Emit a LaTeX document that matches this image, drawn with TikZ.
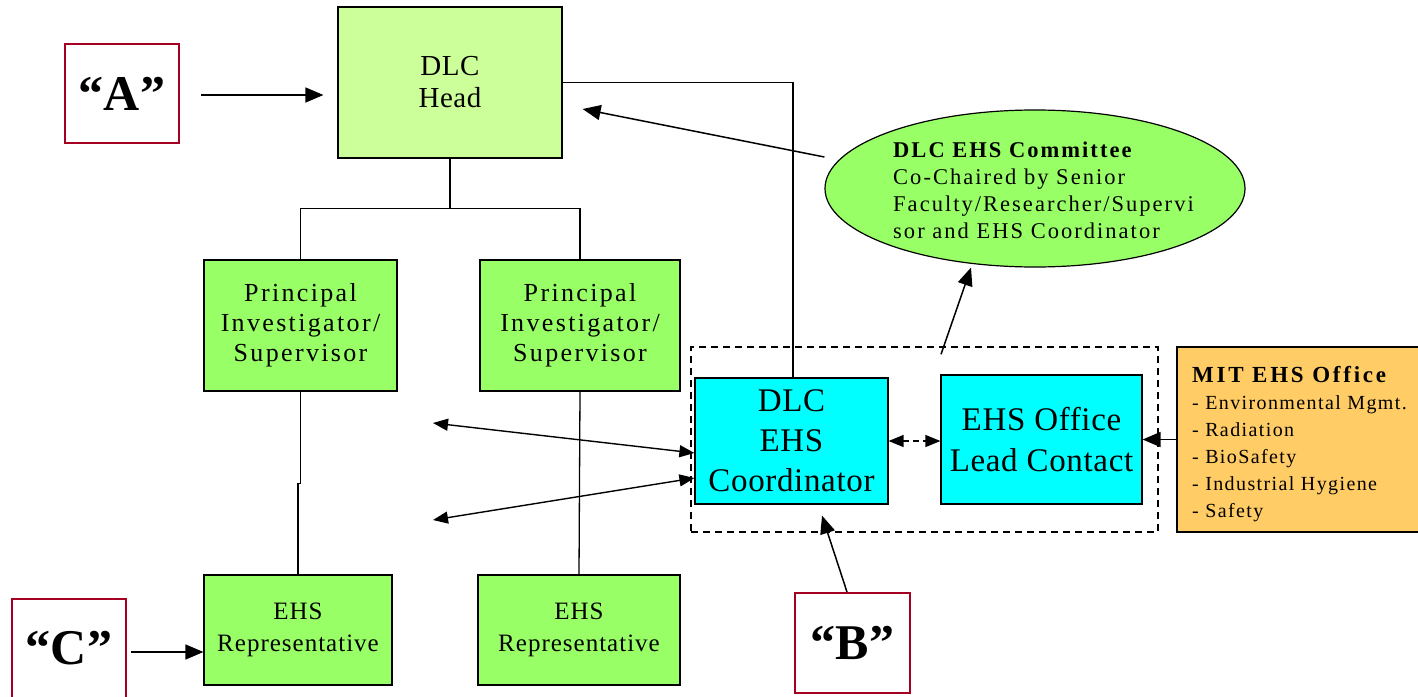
\documentclass[tikz,border=0pt]{standalone}
\usepackage{fontspec}
\setmainfont{Liberation Serif}
\newfontfamily\fA{Liberation Serif}[LetterSpace=2]
\newfontfamily\fB{Liberation Serif}[LetterSpace=9]
\newfontfamily\fR{Liberation Serif}[LetterSpace=4]
\newfontfamily\fC{Liberation Serif}[LetterSpace=7]
\newfontfamily\fD{Liberation Serif}[LetterSpace=12]
\usetikzlibrary{arrows.meta,shapes.geometric}
\definecolor{headg}{HTML}{CCFF99}
\definecolor{boxg}{HTML}{99FF66}
\definecolor{cyanb}{HTML}{00FFFF}
\definecolor{mito}{HTML}{FFCC66}
\definecolor{redb}{HTML}{A50021}
\begin{document}
\begin{tikzpicture}[x=1pt,y=-1pt,
 box/.style={draw=black, line width=1.2pt, inner sep=0pt, align=center},
 pitxt/.style={font=\fB\fontsize{26}{30}\selectfont},
 reptxt/.style={font=\fR\fontsize{25}{32}\selectfont},
 bigtxt/.style={font=\fA\fontsize{33}{40}\selectfont},
 lbl/.style={draw=redb, line width=2pt, inner sep=0pt, minimum width=114pt, minimum height=99pt, font=\fontsize{50}{50}\selectfont\bfseries},
 con/.style={line width=1.3pt},
 arr/.style={line width=1.5pt, -{Triangle[length=18pt,width=15pt]}},
 darr/.style={line width=1.4pt, {Triangle[length=15pt,width=12pt]}-{Triangle[length=15pt,width=12pt]}},
]
\useasboundingbox (0,0) rectangle (1418,696);

% main boxes
\node[box, fill=headg, minimum width=224pt, minimum height=151pt, font=\fA\fontsize{29}{32}\selectfont] (head) at (450,82.5) {DLC\\Head};
\node[box, fill=boxg, pitxt, minimum width=193pt, minimum height=131pt] (pi1) at (300.5,325.5) {Principal\\Investigator/\\Supervisor};
\node[box, fill=boxg, pitxt, minimum width=200pt, minimum height=131pt] (pi2) at (580,325.5) {Principal\\Investigator/\\Supervisor};
\node[box, fill=boxg, reptxt, minimum width=188pt, minimum height=110pt] (rep1) at (298,630) {EHS\\Representative};
\node[box, fill=boxg, reptxt, minimum width=202pt, minimum height=110pt] (rep2) at (579,630) {EHS\\Representative};

% labels
\node[lbl] (A) at (122,93.5) {“A”};
\node[lbl] (C) at (69,648.5) {“C”};
\node[lbl, minimum width=115pt, minimum height=100pt] (B) at (852.5,643) {“B”};

% dashed group
\node[draw, line width=1.4pt, dash pattern=on 7pt off 5pt, minimum width=467pt, minimum height=185pt, inner sep=0pt] (dash) at (924.5,439.5) {};
\node[box, fill=cyanb, bigtxt, minimum width=193pt, minimum height=126pt] (coord) at (791.5,441) {\raisebox{-4pt}{\parbox{190pt}{\centering DLC\\EHS\\Coordinator}}};
\node[box, fill=cyanb, font=\fA\fontsize{33}{41}\selectfont, minimum width=201pt, minimum height=129pt] (lead) at (1041.5,439.5) {EHS Office\\Lead Contact};

% MIT office
\node[box, fill=mito, minimum width=248pt, minimum height=185pt] (mit) at (1301,439.5) {};
\node[anchor=north west, inner sep=0pt, align=left, font=\fC\fontsize{20}{27}\selectfont] (mittext) at (1192,366) {{\fD\fontsize{23}{27}\selectfont\bfseries MIT EHS Office}\\- Environmental Mgmt.\\- Radiation\\- BioSafety\\- Industrial Hygiene\\- Safety};

% committee ellipse
\node[ellipse, draw=black, line width=1.2pt, fill=boxg, minimum width=420pt, minimum height=157pt, inner sep=0pt] (ell) at (1035,188.5) {};
\node[anchor=north west, inner sep=0pt, align=left, font=\fB\fontsize{22.5}{27}\selectfont] (elltext) at (893,141.5) {\textbf{DLC EHS Committee}\\Co-Chaired by Senior\\Faculty/Researcher/Supervi\\sor and EHS Coordinator};

% tree connectors
\draw[con] (head.east) -| ([xshift=1.5pt]coord.north);
\draw[con] (head.south) -- ++(0,50) -| (pi1.north);
\draw[con] (head.south) ++(0,50) -| (pi2.north);
\draw[con] (pi1.south) -- ++(0,92) -| (rep1.north);
\draw[con] (pi2.south) -- (rep2.north);

% arrows
\coordinate (a1) at ([xshift=21pt,yshift=-1.5pt]A.east);
\draw[arr, shorten >=14pt] (a1) -- (a1 -| head.west);
\coordinate (c1) at ([xshift=4pt,yshift=-3.5pt]C.east);
\draw[arr] (c1) -- (c1 -| rep1.west);
\draw[arr] ([xshift=-5.5pt]B.north) -- ([xshift=30.5pt,yshift=-11pt]coord.south);
\draw[arr] ([yshift=31.5pt]ell.west) -- ([xshift=20pt,yshift=-26.5pt]head.east);
\draw[arr] ([xshift=16.5pt,yshift=-8pt]dash.north) -- ([xshift=-64pt]ell.south);
\coordinate (l1) at (433,423);
\coordinate (l2) at (433,520);
\draw[darr] (l1) -- ([yshift=-12pt]coord.west);
\draw[darr] (l2) -- ([yshift=-37pt]coord.west);
\draw[darr, dash pattern=on 6pt off 4pt] (coord.east) -- (coord.east -| lead.west);
\draw[arr] (mit.west) -- (mit.west -| lead.east);
\end{tikzpicture}
\end{document}
